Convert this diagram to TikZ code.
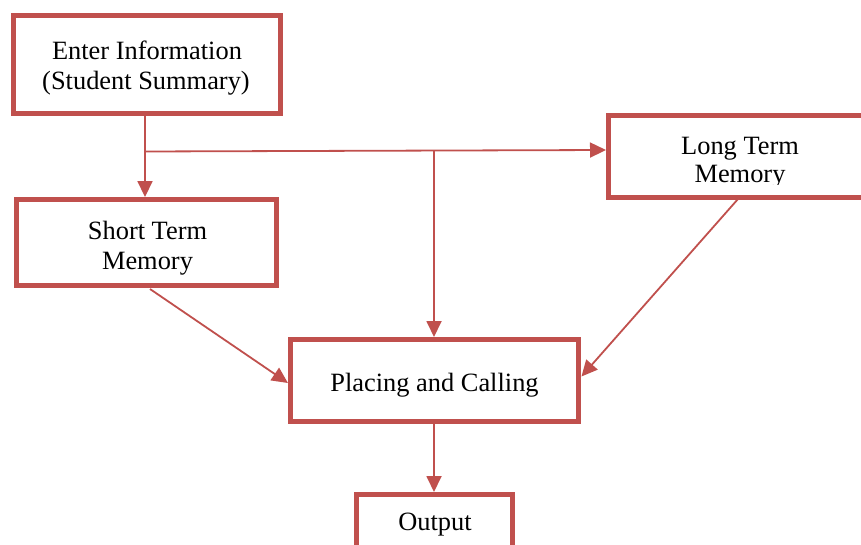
\documentclass[tikz,border=0pt]{standalone}
\usepackage{fontspec}
\setmainfont{Liberation Serif}
\usetikzlibrary{arrows.meta}
\definecolor{boxred}{HTML}{C0504D}
\tikzset{
  box/.style={draw=boxred, line width=5pt, fill=white, rectangle, inner sep=0pt},
  txt/.style={font=\fontsize{26.4}{30.5}\selectfont, anchor=base, inner sep=0pt},
  conn/.style={draw=boxred, line width=1.8pt},
  arr/.style={conn, -{Triangle[length=16pt,width=15pt]}}
}
\begin{document}
\begin{tikzpicture}[x=1pt,y=-1pt]
\useasboundingbox (0,0) rectangle (861,545);
\clip (0,0) rectangle (861,545);
% boxes
\node[box, minimum width=267pt, minimum height=97.5pt] (enter) at (147,64.3) {};
\node[box, minimum width=260pt, minimum height=85.5pt] (short) at (146.5,242.3) {};
\node[box, minimum width=263pt, minimum height=81.5pt] (long) at (740,156.3) {};
\node[box, minimum width=288.5pt, minimum height=82pt] (place) at (434.7,380.5) {};
\node[box, minimum width=156.5pt, minimum height=75pt] (out) at (434.7,532) {};
% texts
\node[txt] (enter1) at (147,59.5) {Enter Information};
\node[txt] (enter2) at (146,89.5) {(Student Summary)};
\node[txt] (short1) at (147.5,239.3) {Short Term};
\node[txt] (short2) at (147.5,269.3) {Memory};
\node[txt] (long1) at (740,154.3) {Long Term};
\begin{scope}
\clip (610,118) rectangle (870,185);
\node[txt] (long2) at (740,182.5) {Memory};
\end{scope}
\node[txt] (place1) at (434.5,391.7) {Placing and Calling};
\node[txt] (out1) at (435,530.7) {Output};
% connectors
\coordinate (j1) at (145,151.5);
\coordinate (j2) at (434,150.5);
\draw[arr] (enter.south -| j1) -- (short.north -| j1);
\draw[arr] (j1) -- (long.west |- 0,150);
\draw[arr] (j2) -- (place.north -| j2);
\draw[arr] (150,289) -- (place.west |- 0,383);
\draw[arr] (738,199) -- (place.east |- 0,376.5);
\draw[arr] (place.south -| j2) -- (out.north -| j2);
\end{tikzpicture}
\end{document}
